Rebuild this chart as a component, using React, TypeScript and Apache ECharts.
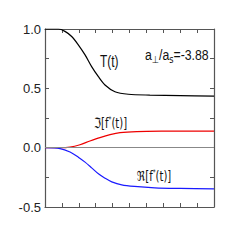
import React, { useEffect, useRef } from "react";
import * as echarts from "echarts";

const tX = [0, 0.79, 1.18, 1.58, 1.97, 2.37, 2.76, 3.16, 3.55, 4.14, 4.93, 6.2, 8, 10];
const tY = [1.0, 1.0, 0.98, 0.937, 0.867, 0.782, 0.683, 0.598, 0.528, 0.471, 0.45, 0.443, 0.439, 0.435];
const imX = [0, 0.89, 1.48, 2.07, 2.66, 3.25, 3.85, 4.44, 5.43, 7, 10];
const imY = [0, 0, 0.005, 0.025, 0.056, 0.085, 0.11, 0.127, 0.136, 0.139, 0.14];
const reX = [0, 0.89, 1.48, 1.97, 2.37, 2.76, 3.16, 3.55, 3.95, 4.54, 5.29, 6.5, 8, 10];
const reY = [0, -0.008, -0.037, -0.08, -0.122, -0.17, -0.22, -0.257, -0.288, -0.314, -0.327, -0.338, -0.343, -0.347];
const yTickLabels = ["-0.5", "0.0", "0.5", "1.0"];

const zip = (xs: number[], ys: number[]) => xs.map((x, i) => [x, ys[i]]);
const sans = "'Liberation Sans', Arial, sans-serif";

export default function App() {
  const ref = useRef<HTMLDivElement>(null);
  useEffect(() => {
    const chart = echarts.init(ref.current!, null, { renderer: "svg" });
    const axisColor = "#555";
    const tick = { show: true, inside: true, length: 4, lineStyle: { color: axisColor } };
    chart.setOption({
      animation: false,
      grid: { left: 45, right: 35, top: 29, bottom: 42 },
      xAxis: [
        {
          type: "value", min: 0, max: 10, interval: 1,
          axisLine: { onZero: false, lineStyle: { color: axisColor, width: 1.2 } },
          axisTick: tick, axisLabel: { show: false }, splitLine: { show: false },
        },
        {
          type: "value", min: 0, max: 10, interval: 1, position: "top",
          axisLine: { show: true, onZero: false, lineStyle: { color: axisColor, width: 1.2 } },
          axisTick: tick, axisLabel: { show: false }, splitLine: { show: false },
        },
      ],
      yAxis: [
        {
          type: "value", min: -0.5, max: 1.0, interval: 0.25, position: "left",
          axisLine: { show: true, onZero: false, lineStyle: { color: axisColor, width: 1.2 } },
          axisTick: tick,
          axisLabel: {
            margin: 4, fontSize: 13, color: "#222", fontFamily: sans,
            formatter: (v: number) => {
              const s = v.toFixed(1);
              return yTickLabels.includes(s) && Math.abs(v * 2 - Math.round(v * 2)) < 1e-6 ? s : "";
            },
          },
          splitLine: { show: false },
        },
        {
          type: "value", min: -0.5, max: 1.0, interval: 0.25, position: "right",
          axisLine: { show: true, onZero: false, lineStyle: { color: axisColor, width: 1.2 } },
          axisTick: tick, axisLabel: { show: false }, splitLine: { show: false },
        },
      ],
      series: [
        {
          type: "line", data: zip(tX, tY), smooth: 0.3, showSymbol: false,
          lineStyle: { color: "#000", width: 1.2 },
          markLine: {
            silent: true, symbol: "none", label: { show: false },
            lineStyle: { color: "#888", width: 1, type: "solid" },
            data: [{ yAxis: 0 }],
          },
        },
        {
          type: "line", data: zip(imX, imY), smooth: 0.3, showSymbol: false,
          lineStyle: { color: "#ee0000", width: 1.2 },
        },
        {
          type: "line", data: zip(reX, reY), smooth: 0.3, showSymbol: false,
          lineStyle: { color: "#1a1aff", width: 1.2 },
        },
      ],
      graphic: [
        {
          type: "text", x: 100, y: 53, scaleX: 0.7,
          style: { text: "T(t)", fontSize: 17, fontFamily: sans, fill: "#111" },
        },
        {
          type: "text", x: 145, y: 46, scaleX: 0.82,
          style: {
            text: "{a|a}{s|⊥}{a|/a}{s|s}{a|=-3.88}",
            rich: {
              a: { fontSize: 15, fontFamily: sans, fill: "#111" },
              s: { fontSize: 10, fontFamily: "DejaVu Sans", fill: "#111", padding: [9, 0, 0, 0] },
            },
          },
        },
        {
          type: "text", x: 94, y: 116, scaleX: 0.72,
          style: {
            text: "{a|ℑ[f}{s|*}{a|(t)]}",
            rich: {
              a: { fontSize: 14, fontFamily: "DejaVu Sans", fill: "#111" },
              s: { fontSize: 8, fontFamily: "DejaVu Sans", fill: "#111", padding: [0, 0, 6, 0] },
            },
          },
        },
        {
          type: "text", x: 137, y: 169, scaleX: 0.72,
          style: {
            text: "{a|ℜ[f}{s|*}{a|(t)]}",
            rich: {
              a: { fontSize: 14, fontFamily: "DejaVu Sans", fill: "#111" },
              s: { fontSize: 8, fontFamily: "DejaVu Sans", fill: "#111", padding: [0, 0, 6, 0] },
            },
          },
        },
      ],
    });
    return () => chart.dispose();
  }, []);
  return <div ref={ref} style={{ width: 249, height: 249, position: "absolute", left: 0, top: 0 }} />;
}
